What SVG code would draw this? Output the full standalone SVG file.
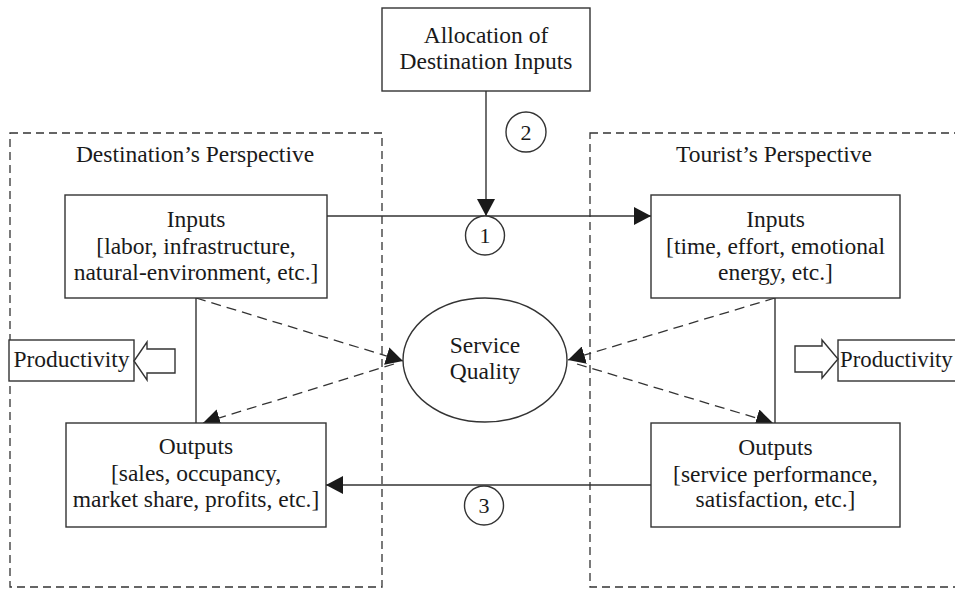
<svg xmlns="http://www.w3.org/2000/svg" width="955" height="589" viewBox="0 0 955 589">
<style>
text{font-family:"Liberation Serif","Times New Roman",serif;font-size:23.5px;fill:#1a1a1a;text-anchor:middle}
.box{fill:#fff;stroke:#333;stroke-width:1.4}
.frame{fill:none;stroke:#333;stroke-width:1.3;stroke-dasharray:8,5}
.line{fill:none;stroke:#333;stroke-width:1.4}
.dash{fill:none;stroke:#333;stroke-width:1.3;stroke-dasharray:10,6}
.num{font-size:22px}
</style>
<defs>
<marker id="ah" markerUnits="userSpaceOnUse" markerWidth="17" markerHeight="18" refX="17" refY="9" viewBox="0 0 17 18" orient="auto">
<path d="M0,0 L17,9 L0,18 z" fill="#1a1a1a"/>
</marker>
</defs>
<g id="destination-perspective">
<rect class="frame" x="10" y="133" width="372" height="454"/>
<text x="195" y="162">Destination’s Perspective</text>
</g>
<g id="tourist-perspective">
<rect class="frame" x="590" y="133" width="420" height="454"/>
<text x="774" y="162">Tourist’s Perspective</text>
</g>
<g id="connectors">
<line class="line" x1="486" y1="91" x2="486" y2="216" marker-end="url(#ah)"/>
<line class="line" x1="327" y1="216" x2="651" y2="216" marker-end="url(#ah)"/>
<line class="line" x1="651" y1="485" x2="326" y2="485" marker-end="url(#ah)"/>
<line class="line" x1="196" y1="298" x2="196" y2="423"/>
<line class="line" x1="775" y1="298" x2="775" y2="423"/>
<line class="dash" x1="196" y1="298" x2="403" y2="361" marker-end="url(#ah)"/>
<line class="dash" x1="394" y1="364" x2="203" y2="423" marker-end="url(#ah)"/>
<line class="dash" x1="775" y1="298" x2="568" y2="360" marker-end="url(#ah)"/>
<line class="dash" x1="577" y1="364" x2="773" y2="423" marker-end="url(#ah)"/>
</g>
<g id="allocation">
<rect class="box" x="382" y="8" width="208" height="83"/>
<text x="486" y="43">Allocation of</text>
<text x="486" y="69">Destination Inputs</text>
</g>
<g id="circle-2">
<circle class="box" cx="526" cy="132" r="20"/>
<text class="num" x="526" y="139.5">2</text>
</g>
<g id="circle-1">
<circle class="box" cx="485" cy="235.5" r="19.5"/>
<text class="num" x="485" y="243">1</text>
</g>
<g id="circle-3">
<circle class="box" cx="484" cy="505.5" r="19.5"/>
<text class="num" x="484" y="513">3</text>
</g>
<g id="inputs-destination">
<rect class="box" x="65" y="195" width="262" height="103"/>
<text x="196" y="227">Inputs</text>
<text x="196" y="254">[labor, infrastructure,</text>
<text x="196" y="280">natural-environment, etc.]</text>
</g>
<g id="outputs-destination">
<rect class="box" x="66" y="423" width="260" height="104"/>
<text x="196" y="454">Outputs</text>
<text x="196" y="481">[sales, occupancy,</text>
<text x="196" y="507">market share, profits, etc.]</text>
</g>
<g id="inputs-tourist">
<rect class="box" x="651" y="195" width="249" height="103"/>
<text x="775.5" y="227">Inputs</text>
<text x="775.5" y="254">[time, effort, emotional</text>
<text x="775.5" y="280">energy, etc.]</text>
</g>
<g id="outputs-tourist">
<rect class="box" x="651" y="423" width="249" height="104"/>
<text x="775.5" y="455">Outputs</text>
<text x="775.5" y="482">[service performance,</text>
<text x="775.5" y="507">satisfaction, etc.]</text>
</g>
<g id="service-quality">
<ellipse class="box" cx="485" cy="360" rx="82" ry="62"/>
<text x="485" y="353">Service</text>
<text x="485" y="379">Quality</text>
</g>
<g id="productivity-destination">
<rect class="box" x="9" y="340" width="125" height="41"/>
<text x="71.5" y="367">Productivity</text>
<polygon class="box" points="134,361 147,342 147,349 175,349 175,373 147,373 147,380"/>
</g>
<g id="productivity-tourist">
<rect class="box" x="838" y="340" width="200" height="41"/>
<text x="840" y="367" style="text-anchor:start;font-size:22.8px">Productivity</text>
<polygon class="box" points="795,346 822,346 822,340 838,359 822,378 822,372 795,372"/>
</g>
</svg>
